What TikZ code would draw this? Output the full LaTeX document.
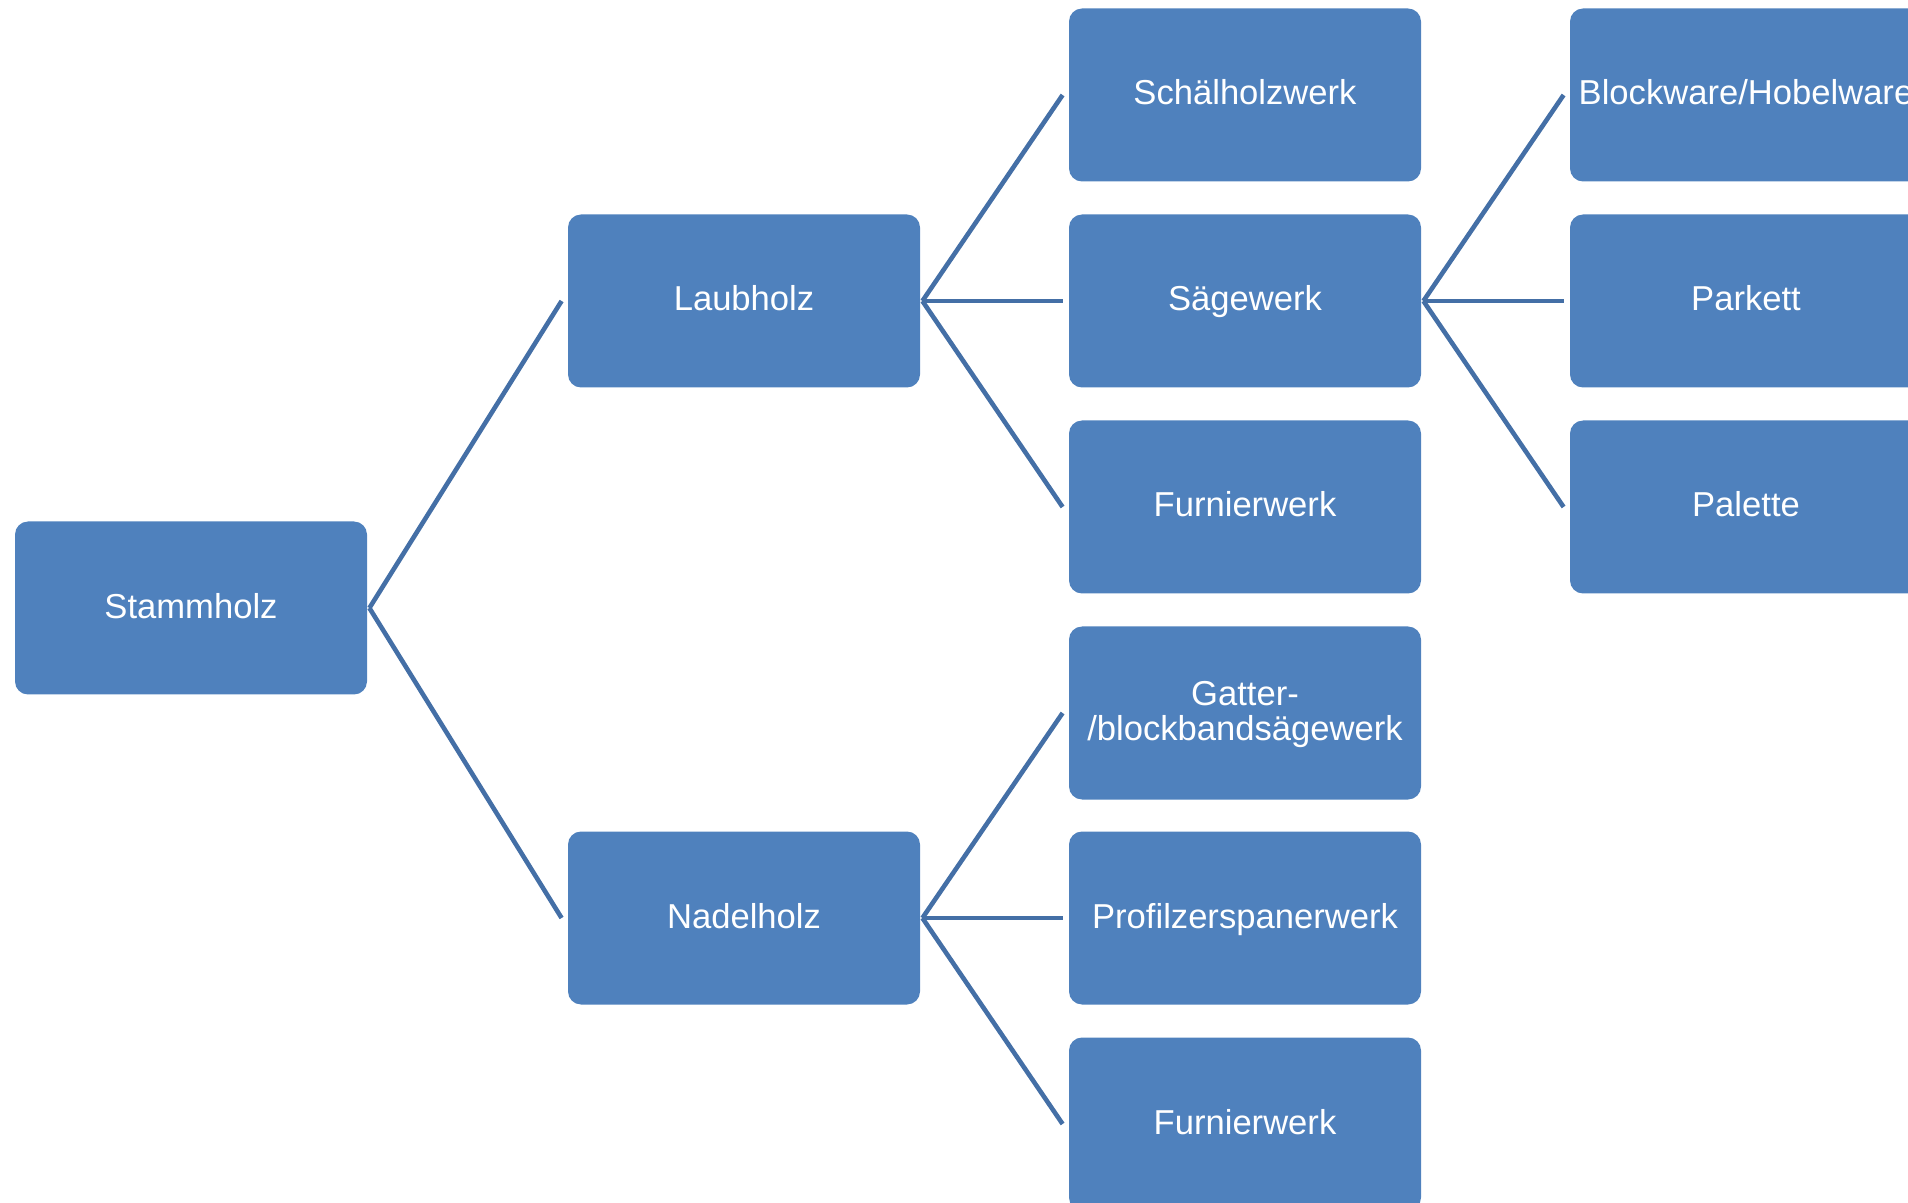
\documentclass[tikz,border=0pt]{standalone}
\usepackage{fontspec}
\setmainfont{Liberation Sans}
\definecolor{boxblue}{HTML}{4F81BD}
\definecolor{lineblue}{HTML}{446FA6}
\begin{document}
\begin{tikzpicture}[x=0.5pt,y=-0.5pt,
  box/.style={draw=none, fill=boxblue, rounded corners=6.5pt,
    minimum width=176pt, minimum height=86.5pt, inner sep=0pt,
    text=white, font=\fontsize{17.3}{17.5}\selectfont, align=center},
  single/.style={box, text height=1.0em, text depth=0pt},
  double/.style={box, text height=31.3pt},
  conn/.style={draw=lineblue, line width=2.3pt}]
\useasboundingbox (0,0) rectangle (1908,1203);
\clip (0,0) rectangle (1908,1203);
% column 1
\node[single] (stamm) at (191,608) {Stammholz};
% column 2
\node[single] (laub) at (744,301) {Laubholz};
\node[single] (nadel) at (744,918) {Nadelholz};
% column 3
\node[single] (schael) at (1245,95) {Schälholzwerk};
\node[single] (saege) at (1245,301) {Sägewerk};
\node[single] (furn1) at (1245,507) {Furnierwerk};
\node[double] (gatter) at (1245,713) {Gatter-\\/blockbandsägewerk};
\node[single] (profil) at (1245,918) {Profilzerspanerwerk};
\node[single] (furn2) at (1245,1124) {Furnierwerk};
% column 4
\node[single] (block) at (1746,95) {Blockware/Hobelware};
\node[single] (parkett) at (1746,301) {Parkett};
\node[single] (palette) at (1746,507) {Palette};
% connectors
\draw[conn] ([xshift=1pt]stamm.east) -- ([xshift=-3pt]laub.west);
\draw[conn] ([xshift=1pt]stamm.east) -- ([xshift=-3pt]nadel.west);
\draw[conn] ([xshift=1pt]laub.east) -- ([xshift=-3pt]schael.west);
\draw[conn] ([xshift=1pt]laub.east) -- ([xshift=-3pt]saege.west);
\draw[conn] ([xshift=1pt]laub.east) -- ([xshift=-3pt]furn1.west);
\draw[conn] ([xshift=1pt]nadel.east) -- ([xshift=-3pt]gatter.west);
\draw[conn] ([xshift=1pt]nadel.east) -- ([xshift=-3pt]profil.west);
\draw[conn] ([xshift=1pt]nadel.east) -- ([xshift=-3pt]furn2.west);
\draw[conn] ([xshift=1pt]saege.east) -- ([xshift=-3pt]block.west);
\draw[conn] ([xshift=1pt]saege.east) -- ([xshift=-3pt]parkett.west);
\draw[conn] ([xshift=1pt]saege.east) -- ([xshift=-3pt]palette.west);
\end{tikzpicture}
\end{document}
